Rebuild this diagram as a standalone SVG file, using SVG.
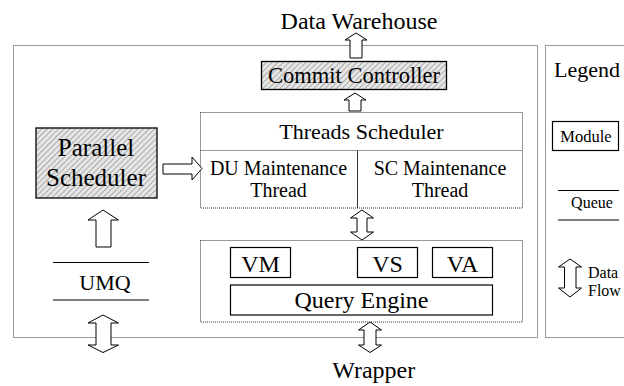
<svg xmlns="http://www.w3.org/2000/svg" width="624" height="386" viewBox="0 0 624 386">
<defs>
<pattern id="hatch" width="4" height="4" patternUnits="userSpaceOnUse" patternTransform="rotate(45)">
<rect width="4" height="4" fill="#e6e6e6"/>
<line x1="0" y1="0" x2="0" y2="4" stroke="#7a7a7a" stroke-width="1.1"/>
</pattern>
</defs>
<style>
text{font-family:"Liberation Serif","Times New Roman",serif;fill:#000}
.c{text-anchor:middle}
.dot{fill:none;stroke:#333;stroke-width:1;stroke-dasharray:1 1}
.hat{fill:url(#hatch);stroke:#000;stroke-width:1.3}
.mod{fill:#fff;stroke:#000;stroke-width:1.2}
.arr{fill:#fff;stroke:#000;stroke-width:1;stroke-linejoin:miter}
.qtop{stroke:#000;stroke-width:1.2}
.qbot{stroke:#808080;stroke-width:2.2}
</style>
<rect width="624" height="386" fill="#fff"/>

<g id="main-frame"><rect class="dot" x="13.5" y="45.5" width="524" height="292"/></g>
<g id="legend">
<rect class="dot" x="545.5" y="45.5" width="90" height="292"/>
<text x="554" y="77" font-size="22">Legend</text>
<rect class="mod" x="552.5" y="121.5" width="66" height="29"/>
<text class="c" x="586" y="142" font-size="16.5">Module</text>
<line class="qtop" x1="558" y1="190.5" x2="619" y2="190.5"/>
<text class="c" x="592" y="208" font-size="16">Queue</text>
<line class="qbot" x1="558" y1="220" x2="619" y2="220"/>
<path class="arr" d="M570,259 L581.5,267 L576,267 L576,288 L581.5,288 L570,297 L558.5,288 L564.5,288 L564.5,267 L558.5,267 Z"/>
<text x="588" y="278" font-size="16">Data</text>
<text x="588" y="296" font-size="16">Flow</text>
</g>

<g id="data-warehouse"><text class="c" x="359" y="29" font-size="24">Data Warehouse</text></g>
<g id="commit-controller">
<rect class="hat" x="261.5" y="61.5" width="185" height="28"/>
<text class="c" x="354" y="83" font-size="22.5">Commit Controller</text>
</g>
<g id="threads-scheduler">
<rect class="dot" x="200.5" y="112.5" width="322" height="95.5"/>
<line class="dot" x1="200.5" y1="150.5" x2="522.5" y2="150.5"/>
<line x1="357.5" y1="150.5" x2="357.5" y2="208" stroke="#333" stroke-width="1"/>
<text class="c" x="361.5" y="139" font-size="22">Threads Scheduler</text>
</g>
<g id="du-thread">
<text class="c" x="278.5" y="175" font-size="20">DU Maintenance</text>
<text class="c" x="278.5" y="197" font-size="20">Thread</text>
</g>
<g id="sc-thread">
<text class="c" x="440" y="175" font-size="20">SC Maintenance</text>
<text class="c" x="440" y="197" font-size="20">Thread</text>
</g>
<g id="parallel-scheduler">
<rect class="hat" x="36" y="128" width="121" height="70"/>
<text class="c" x="96" y="156" font-size="25">Parallel</text>
<text class="c" x="96" y="186" font-size="25">Scheduler</text>
</g>
<g id="umq">
<line class="qtop" x1="53" y1="262.5" x2="149" y2="262.5"/>
<text class="c" x="105" y="290" font-size="22">UMQ</text>
<line class="qbot" x1="53" y1="300" x2="149" y2="300"/>
</g>
<g id="engine-frame"><rect class="dot" x="200.5" y="240.5" width="322" height="81.5"/></g>
<g id="vm"><rect class="mod" x="230.5" y="247.5" width="60" height="30"/><text class="c" x="260.5" y="272" font-size="24">VM</text></g>
<g id="vs"><rect class="mod" x="357.5" y="247.5" width="60" height="30"/><text class="c" x="387.5" y="272" font-size="24">VS</text></g>
<g id="va"><rect class="mod" x="432.5" y="247.5" width="60" height="30"/><text class="c" x="462.5" y="272" font-size="24">VA</text></g>
<g id="query-engine"><rect class="mod" x="230.5" y="285" width="262" height="30"/><text class="c" x="361.5" y="308" font-size="24">Query Engine</text></g>
<g id="wrapper"><text class="c" x="373.7" y="378" font-size="24">Wrapper</text></g>

<g id="connectors">
<path class="arr" d="M356,33 L367,40 L362,40 L362,58 L350,58 L350,40 L345,40 Z"/>
<path class="arr" d="M355,93 L366,100 L361,100 L361,111 L349,111 L349,100 L344,100 Z"/>
<path class="arr" d="M163,164 L192,164 L192,157 L202,168.5 L192,180 L192,174 L163,174 Z"/>
<path class="arr" d="M103,210 L118.5,220 L111,220 L111,247 L96,247 L96,220 L88,220 Z"/>
<path class="arr" d="M103,315 L118.5,323 L111,323 L111,345 L118.5,345 L103,352.5 L88,345 L96,345 L96,323 L88,323 Z"/>
<path class="arr" d="M362,210 L373.5,218 L367,218 L367,232 L373.5,232 L362,240 L350.5,232 L357,232 L357,218 L350.5,218 Z"/>
<path class="arr" d="M370,322 L381.5,330 L376,330 L376,345 L381.5,345 L370,352.5 L358.5,345 L364,345 L364,330 L358.5,330 Z"/>
</g>
</svg>
